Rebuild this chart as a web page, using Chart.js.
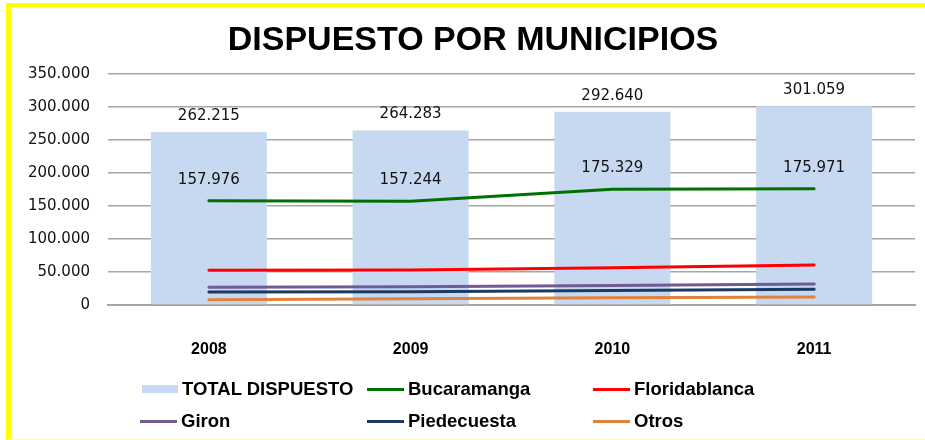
<!DOCTYPE html>
<html>
<head>
<meta charset="utf-8">
<script src="https://cdn.jsdelivr.net/npm/chart.js@4/dist/chart.umd.min.js"></script>
<style>
  html, body { margin: 0; padding: 0; background: #fff; }
  #wrap { position: relative; width: 925px; height: 440px; overflow: hidden; }
  #frame { position: absolute; left: 6px; top: 3px; width: 960px; height: 432px; border-top: 4px solid #ffff00; border-left: 5px solid #ffff00; border-bottom: 1px solid #ffffa0; box-sizing: content-box; }
  #title { position: absolute; left: 0; top: 21px; width: 946px; text-align: center; font: bold 34px "Liberation Sans", Arial, sans-serif; line-height: 34px; color: #000; }
  canvas { position: absolute; left: 0; top: 0; }
  #legend { position: absolute; left: 0; top: 0; width: 925px; height: 440px; pointer-events: none; }
  .item { position: absolute; display: flex; align-items: center; height: 20px; font: bold 18.5px "Liberation Sans", Arial, sans-serif; color: #000; white-space: nowrap; }
  .sw { display: inline-block; width: 37px; margin-right: 4px; }
</style>
</head>
<body>
<div id="wrap">
  <div id="frame"></div>
  <canvas id="c" width="925" height="440"></canvas>
  <div id="title">DISPUESTO POR MUNICIPIOS</div>
  <div id="legend"></div>
</div>
<script>
const categories = ["2008", "2009", "2010", "2011"];
const totalDispuesto = [262215, 264283, 292640, 301059];
const bucaramanga = [157976, 157244, 175329, 175971];
const floridablanca = [52500, 52900, 56500, 60500];
const giron = [27000, 27800, 29500, 31800];
const piedecuesta = [19700, 20200, 22000, 23700];
const otros = [8000, 9600, 11000, 12100];
const yTicks = [0, 50000, 100000, 150000, 200000, 250000, 300000, 350000];

function fmt(v) {
  return String(Math.round(v)).replace(/\B(?=(\d{3})+(?!\d))/g, ".");
}

const labelPlugin = {
  id: 'valueLabels',
  afterDatasetsDraw(chart) {
    const ctx = chart.ctx;
    ctx.save();
    ctx.font = '15px "DejaVu Sans", sans-serif';
    ctx.fillStyle = '#111';
    ctx.textAlign = 'center';
    ctx.textBaseline = 'middle';
    const barMeta = chart.getDatasetMeta(0);
    barMeta.data.forEach((el, i) => {
      ctx.fillText(fmt(chart.data.datasets[0].data[i]), el.x, el.y - 16);
    });
    const lineMeta = chart.getDatasetMeta(1);
    lineMeta.data.forEach((el, i) => {
      ctx.fillText(fmt(chart.data.datasets[1].data[i]), el.x, el.y - 21);
    });
    ctx.restore();
  }
};

function lineDs(label, data, color) {
  return { type: 'line', label, data, borderColor: color, backgroundColor: color,
    borderWidth: 3, pointRadius: 0, tension: 0, order: 1, borderCapStyle: 'round' };
}

const chart = new Chart(document.getElementById('c'), {
  type: 'bar',
  data: {
    labels: categories,
    datasets: [
      { type: 'bar', label: 'TOTAL DISPUESTO', data: totalDispuesto, backgroundColor: '#c6d9f0',
        categoryPercentage: 1, barPercentage: 0.575, order: 2 },
      lineDs('Bucaramanga', bucaramanga, '#007000'),
      lineDs('Floridablanca', floridablanca, '#ff0000'),
      lineDs('Giron', giron, '#725a94'),
      lineDs('Piedecuesta', piedecuesta, '#1a3a63'),
      lineDs('Otros', otros, '#e0823a')
    ]
  },
  options: {
    responsive: false,
    animation: false,
    events: [],
    layout: { padding: { top: 74, right: 10, left: 0, bottom: 0 } },
    plugins: { legend: { display: false }, tooltip: { enabled: false }, title: { display: false } },
    scales: {
      x: {
        offset: true,
        grid: { display: false, drawTicks: false },
        border: { display: true, color: '#a6a6a6', width: 2 },
        ticks: { padding: 35, color: '#000', font: { family: '"Liberation Sans", Arial, sans-serif', size: 16, weight: 'bold' } },
        afterFit(s) { s.height = 135; }
      },
      y: {
        min: 0, max: 350000,
        afterBuildTicks(s) { s.ticks = yTicks.map(v => ({ value: v })); },
        grid: { color: '#a6a6a6', lineWidth: 1.5, drawTicks: false },
        border: { display: false },
        ticks: { padding: 18, color: '#111', font: { family: '"DejaVu Sans", sans-serif', size: 15 },
          callback: v => fmt(v) },
        afterFit(s) { s.width = 108; }
      }
    }
  },
  plugins: [labelPlugin]
});

// HTML legend built from datasets
const legend = document.getElementById('legend');
const cols = [140, 367, 593];
const rows = [389, 421];
chart.data.datasets.forEach((ds, i) => {
  const item = document.createElement('div');
  item.className = 'item';
  item.style.left = cols[i % 3] + 'px';
  item.style.top = (rows[Math.floor(i / 3)] - 10) + 'px';
  const sw = document.createElement('span');
  sw.className = 'sw';
  if (ds.type === 'bar') {
    sw.style.height = '8px';
    sw.style.background = ds.backgroundColor;
    sw.style.marginLeft = '2px';
    sw.style.width = '36px';
  } else {
    sw.style.height = '3px';
    sw.style.background = ds.borderColor;
  }
  item.appendChild(sw);
  const t = document.createElement('span');
  t.textContent = ds.label;
  item.appendChild(t);
  legend.appendChild(item);
});
</script>
</body>
</html>
